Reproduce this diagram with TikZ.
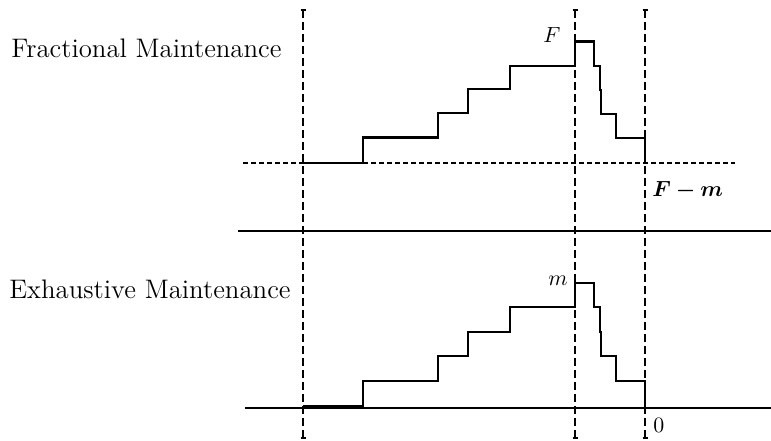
\documentclass[tikz,border=0pt]{standalone}
\usepackage{bm}
\begin{document}
\begin{tikzpicture}[x=0.5pt,y=-0.5pt,
  solidline/.style={line width=1.1pt},
  vdash/.style={line width=1pt,dash pattern=on 4pt off 2pt},
  hdot/.style={line width=0.7pt,dash pattern=on 2.5pt off 1.5pt},
  capline/.style={line width=1pt},
  title/.style={font=\fontsize{13.4}{16}\selectfont,anchor=base west,inner sep=0pt},
  lab/.style={font=\fontsize{11}{13}\selectfont,anchor=base west,inner sep=0pt}]
\useasboundingbox[fill=white] (0,0) rectangle (771,440);

% titles
\node[title] (tfrac) at (11,57) {Fractional Maintenance};
\node[title] (texh) at (9,298) {Exhaustive Maintenance};

% vertical dashed lines with caps
\foreach \x/\n in {303/a,575/b,645/c}{
  \coordinate (top\n) at (\x,10);
  \coordinate (bot\n) at (\x,438);
  \draw[vdash] (top\n) -- (bot\n);
  \draw[capline] ([xshift=-1.25pt]top\n) -- ([xshift=1.25pt]top\n);
  \draw[capline] ([xshift=-1.25pt]bot\n) -- ([xshift=1.25pt]bot\n);
}

% top panel
\coordinate (dl) at (243,163);
\coordinate (dr) at (735,163);
\draw[hdot] (dl) -- (dr);
\draw[solidline] (303,163) -- (363,163) -- (363,137.5) -- (438,137.5) -- (438,113)
  -- (468,113) -- (468,89) -- (510,89) -- (510,66) -- (575,66) -- (575,41.5)
  -- (594,41.5) -- (594,66) -- (600,66) -- (600,90) -- (601,90) -- (601,114)
  -- (616,114) -- (616,138) -- (645,138) -- (645,163);
\node[lab] (lF) at (543,42) {$F$};
\node[lab] (lFm) at (652,196) {$\bm{F-m}$};

% separator
\coordinate (sl) at (238,231);
\coordinate (sr) at (771,231);
\draw[solidline] (sl) -- (sr);

% bottom panel
\coordinate (bl) at (245,408);
\coordinate (br) at (771,408);
\draw[solidline] (bl) -- (br);
\draw[solidline] (303,406.5) -- (363,406.5) -- (363,381) -- (438,381) -- (438,356)
  -- (468,356) -- (468,332) -- (510,332) -- (510,307) -- (575,307) -- (575,283)
  -- (594,283) -- (594,307) -- (600,307) -- (600,332) -- (601,332) -- (601,356)
  -- (616,356) -- (616,381) -- (645,381) -- (645,408);
\node[lab] (lm) at (548,285) {$m$};
\node[lab] (l0) at (653,432) {$0$};
\end{tikzpicture}
\end{document}
